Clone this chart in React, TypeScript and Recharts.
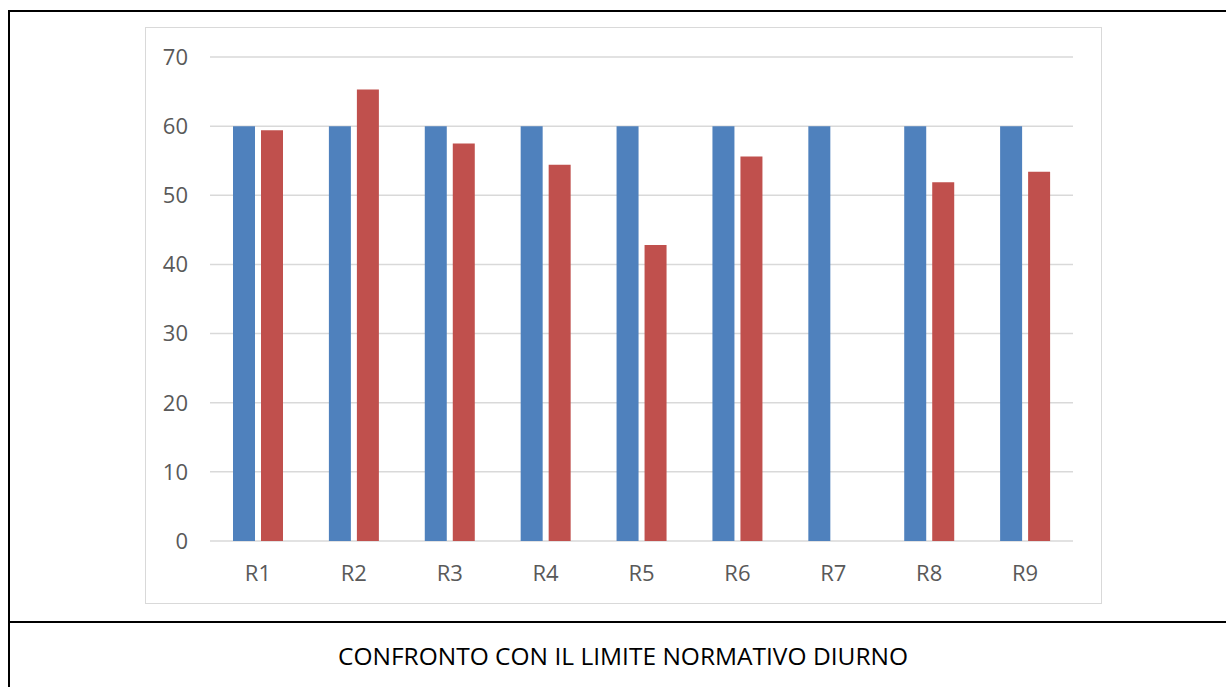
import React from 'react';
import { BarChart, Bar, XAxis, YAxis, CartesianGrid } from 'recharts';

const categories = ['R1', 'R2', 'R3', 'R4', 'R5', 'R6', 'R7', 'R8', 'R9'];
const limite = [60, 60, 60, 60, 60, 60, 60, 60, 60];
const misurato: (number | null)[] = [59.4, 65.3, 57.5, 54.4, 42.8, 55.6, null, 51.9, 53.4];
const yTicks = [0, 10, 20, 30, 40, 50, 60, 70];

const BLUE = '#4f81bd';
const RED = '#c0504d';
const FONT = '"Open Sans", "DejaVu Sans", sans-serif';

const data = categories.map((name, i) => ({
  name,
  limite: limite[i],
  misurato: misurato[i],
}));

export default function App() {
  return (
    <div
      style={{
        position: 'absolute',
        left: 0,
        top: 0,
        width: 1226,
        height: 687,
        background: '#fff',
        overflow: 'hidden',
        fontFamily: FONT,
      }}
    >
      {/* cornice della tabella */}
      <div style={{ position: 'absolute', left: 8, top: 10, width: 1218, height: 2, background: '#000' }} />
      <div style={{ position: 'absolute', left: 8, top: 10, width: 2, height: 677, background: '#000' }} />
      <div style={{ position: 'absolute', left: 8, top: 621, width: 1218, height: 2, background: '#000' }} />

      <div
        style={{
          position: 'absolute',
          left: 145,
          top: 27,
          width: 955,
          height: 575,
          border: '1px solid #d9d9d9',
        }}
      >
        <BarChart
          width={955}
          height={575}
          data={data}
          margin={{ top: 29, right: 28, bottom: 0, left: 0 }}
          barSize={22}
          barGap={6}
        >
          <CartesianGrid vertical={false} stroke="#d9d9d9" strokeWidth={1.5} />
          <XAxis
            dataKey="name"
            axisLine={false}
            tickLine={false}
            tickSize={0}
            tickMargin={24}
            height={62}
            tick={{ fill: '#595959', fontSize: 22, fontFamily: FONT }}
          />
          <YAxis
            domain={[0, 70]}
            ticks={yTicks}
            axisLine={false}
            tickLine={false}
            tickSize={0}
            tickMargin={22}
            width={64}
            tick={{ fill: '#595959', fontSize: 22, fontFamily: FONT }}
          />
          <Bar dataKey="limite" name="Limite normativo" fill={BLUE} isAnimationActive={false} />
          <Bar dataKey="misurato" name="Livello misurato" fill={RED} isAnimationActive={false} />
        </BarChart>
      </div>

      <div
        style={{
          position: 'absolute',
          left: 8,
          width: 1230,
          top: 639,
          textAlign: 'center',
          fontSize: 24.5,
          color: '#000',
          fontFamily: FONT,
        }}
      >
        CONFRONTO CON IL LIMITE NORMATIVO DIURNO
      </div>
    </div>
  );
}
